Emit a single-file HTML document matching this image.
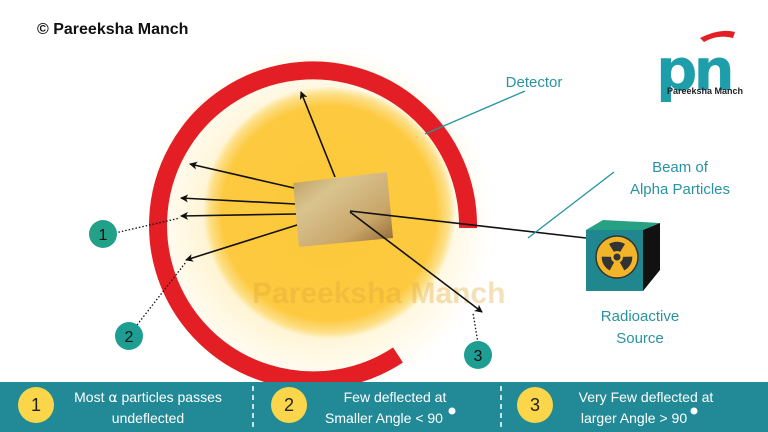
<!DOCTYPE html>
<html><head><meta charset="utf-8"><style>
html,body{margin:0;padding:0;background:#fff}
body{width:768px;height:432px;overflow:hidden;position:relative;font-family:"Liberation Sans",sans-serif}
</style></head><body>
<svg width="768" height="432" viewBox="0 0 768 432" xmlns="http://www.w3.org/2000/svg" style="position:absolute;left:0;top:0">
<defs>
<radialGradient id="yg" cx="0.5" cy="0.5" r="0.5">
<stop offset="0" stop-color="#fdc93a"/><stop offset="0.85" stop-color="#fdc93f"/><stop offset="0.95" stop-color="#fde08a"/><stop offset="1" stop-color="#fff6d8"/>
</radialGradient>
<radialGradient id="glow" cx="0.5" cy="0.5" r="0.5">
<stop offset="0.6" stop-color="#fff3cf"/><stop offset="1" stop-color="#ffffff"/>
</radialGradient>
<linearGradient id="foil" x1="0" y1="0" x2="1" y2="1">
<stop offset="0" stop-color="#b99b5c"/><stop offset="0.3" stop-color="#d9c48f"/><stop offset="0.7" stop-color="#c9a66a"/><stop offset="1" stop-color="#8c6530"/>
</linearGradient>
<marker id="ah" markerWidth="8" markerHeight="8" refX="7" refY="4" orient="auto" markerUnits="userSpaceOnUse">
<path d="M0,0 L8,4 L0,8 L2,4 z" fill="#111"/></marker>
</defs>
<circle cx="318" cy="220" r="175" fill="url(#glow)"/>
<circle cx="329" cy="213" r="126" fill="url(#yg)"/>
<text x="252" y="303" font-size="30" fill="#e0a93a" opacity="0.35" font-weight="bold">Pareeksha Manch</text>
<path d="M 468 228 A 155 155 0 1 0 398 355" fill="none" stroke="#e31e24" stroke-width="18"/>
<polygon points="293,183 387,172 393,238 299,247" fill="url(#foil)"/>
<g stroke="#111" stroke-width="1.6" fill="none" marker-end="url(#ah)">
<line x1="335" y1="177" x2="301" y2="92"/>
<line x1="294" y1="188" x2="190" y2="164"/>
<line x1="295" y1="204" x2="181" y2="198"/>
<line x1="296" y1="214" x2="181" y2="216"/>
<line x1="297" y1="225" x2="186" y2="260"/>
<line x1="350" y1="212" x2="482" y2="312"/>
</g>
<line x1="350" y1="211" x2="586" y2="238" stroke="#111" stroke-width="1.6"/>
<g stroke="#111" stroke-width="1.3" stroke-dasharray="1.5,2" fill="none">
<line x1="115" y1="233" x2="180" y2="218"/>
<line x1="137" y1="325" x2="186" y2="262"/>
<line x1="478" y1="343" x2="473" y2="313"/>
</g>
<g font-size="16" text-anchor="middle" fill="#111">
<circle cx="103" cy="234" r="14" fill="#22a088"/><text x="103" y="240">1</text>
<circle cx="129" cy="336" r="14" fill="#1e9e93"/><text x="129" y="342">2</text>
<circle cx="478" cy="355" r="14" fill="#1e9e93"/><text x="478" y="361">3</text>
</g>
<line x1="525" y1="91" x2="425" y2="134" stroke="#2593a0" stroke-width="1.3"/>
<line x1="614" y1="172" x2="528" y2="238" stroke="#2593a0" stroke-width="1.3"/>
<g font-size="15" fill="#2a93a0" text-anchor="middle">
<text x="534" y="87">Detector</text>
<text x="680" y="172">Beam of</text>
<text x="680" y="194">Alpha Particles</text>
<text x="640" y="321">Radioactive</text>
<text x="640" y="343">Source</text>
</g>
<polygon points="586,230 603,220 660,223 643,230" fill="#27a083"/>
<polygon points="643,230 660,223 660,270 643,291" fill="#111"/>
<rect x="586" y="230" width="57" height="61" fill="#21878f"/>
<circle cx="617" cy="257" r="21" fill="#f2b52a" stroke="#333" stroke-width="1.5"/>
<g fill="#333">
<path d="M617,257 L609,244 A15,15 0 0 1 625,244 Z"/>
<path d="M617,257 L609,244 A15,15 0 0 1 625,244 Z" transform="rotate(120 617 257)"/>
<path d="M617,257 L609,244 A15,15 0 0 1 625,244 Z" transform="rotate(240 617 257)"/>
</g>
<circle cx="617" cy="257" r="6" fill="#f2b52a"/><circle cx="617" cy="257" r="3.5" fill="#333"/>
<path d="M700,38 Q720,28 735,32 L733,38 Q718,34 704,42 Z" fill="#e31e24"/>
<text x="656" y="90" font-size="58" font-weight="bold" fill="#1e9eab" font-family="'DejaVu Sans',sans-serif" letter-spacing="-4">pn</text>
<text x="667" y="94" font-size="9" font-weight="bold" fill="#222">Pareeksha Manch</text>
<text x="37" y="34" font-size="16" font-weight="bold" fill="#111">© Pareeksha Manch</text>
<rect x="0" y="382" width="768" height="50" fill="#228a97"/>
<g stroke="#fff" stroke-width="1.5" stroke-dasharray="5,4">
<line x1="253" y1="386" x2="253" y2="430"/><line x1="501" y1="386" x2="501" y2="430"/>
</g>
<g fill="#fcd64a"><circle cx="36" cy="405" r="18"/><circle cx="289" cy="405" r="18"/><circle cx="535" cy="405" r="18"/></g>
<g font-size="18" fill="#222" text-anchor="middle"><text x="36" y="411">1</text><text x="289" y="411">2</text><text x="535" y="411">3</text></g>
<g font-size="14" fill="#fff" text-anchor="middle">
<text x="148" y="402">Most ⍺ particles passes</text>
<text x="148" y="423">undeflected</text>
<text x="395" y="402">Few deflected at</text>
<text x="384" y="423">Smaller Angle  &lt; 90</text>
<text x="646" y="402">Very Few deflected at</text>
<text x="634" y="423">larger Angle  &gt; 90</text>
</g>
<circle cx="452" cy="411" r="3.5" fill="#fff"/><circle cx="694" cy="411" r="3.5" fill="#fff"/>
</svg>
</body></html>
